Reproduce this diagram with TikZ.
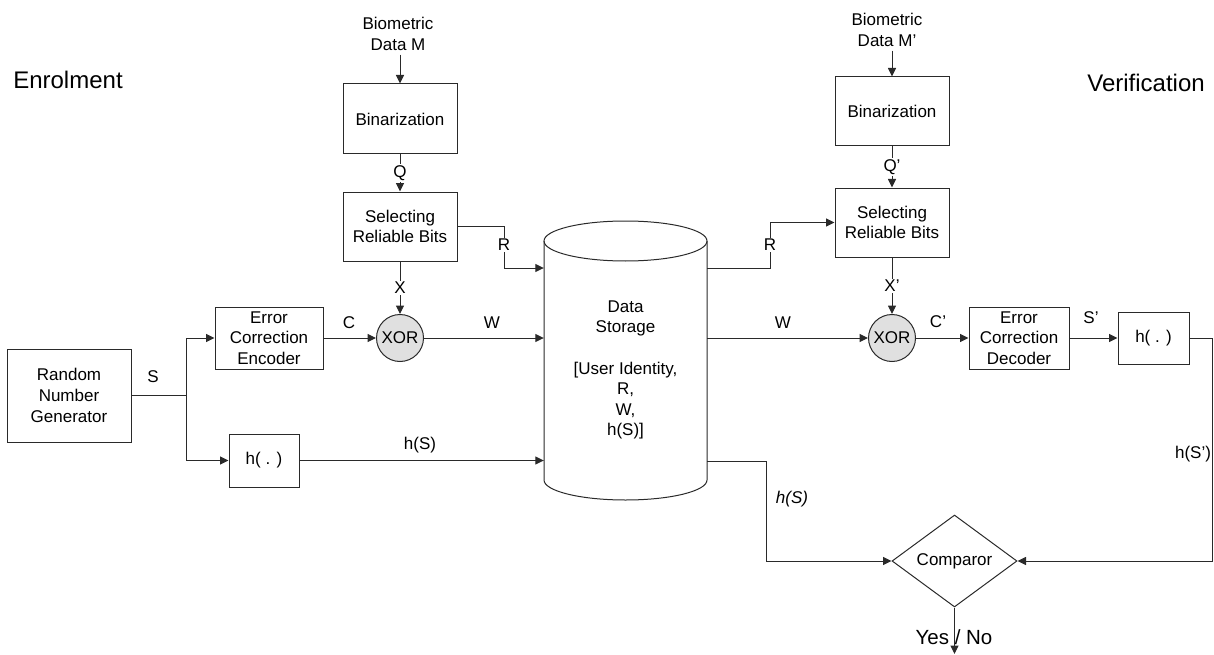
\documentclass[tikz,border=0pt]{standalone}
\usepackage{fontspec}
\setmainfont{Liberation Sans}
\usetikzlibrary{arrows.meta,shapes.geometric}
\newcommand\bodyfont{\fontsize{17pt}{20.6pt}\selectfont}
\newcommand\headfont{\fontsize{24pt}{28pt}\selectfont}
\newcommand\ynfont{\fontsize{20.5pt}{24pt}\selectfont}
\definecolor{ink}{HTML}{2A2A2A}
\definecolor{gatefill}{HTML}{E0E0E0}

\begin{document}
\begin{tikzpicture}[x=1pt,y=-1pt,
  every node/.style={font=\bodyfont, text=black},
  line/.style={draw=ink, line width=1pt},
  arr/.style={line, -{Triangle[length=8.5pt,width=8pt]}},
  block/.style={draw=ink, line width=1pt, align=center, inner sep=2pt},
  xorgate/.style={circle, draw=ink, fill=gatefill, line width=1pt, minimum size=47pt, inner sep=0pt},
  lbl/.style={fill=white, inner sep=1pt},
]
\useasboundingbox (0,0) rectangle (1214,655);

% headings
\node[font=\headfont] (enrol) at (68,80) {Enrolment};
\node[font=\headfont] (verif) at (1146,83) {Verification};

% enrolment chain
\node[align=center, inner sep=4pt] (bioL) at (398,34) {Biometric\\Data M};
\node[block, minimum width=114pt, minimum height=70pt] (binL) at (400,119) {Binarization};
\node[block, minimum width=114pt, minimum height=69pt] (selL) at (400,226.5) {Selecting\\Reliable Bits};
\node[xorgate] (xorL) at (400,338) {XOR};
\node[block, minimum width=108pt, minimum height=62pt] (enc) at (269,338) {Error\\Correction\\Encoder};
\node[block, minimum width=124pt, minimum height=93pt] (rng) at (69,395.5) {Random\\Number\\Generator};
\node[block, minimum width=70pt, minimum height=53pt] (hL) at (264,460.5) {h( . )};

% data storage cylinder
\node[minimum width=163pt, minimum height=279pt, inner sep=0pt] (store) at (625.5,360.5) {};
\draw[line] (544,241) -- (544,480) arc[start angle=180, end angle=360, x radius=81.5pt, y radius=20pt] -- (707,241);
\draw[line] (625.5,241) ellipse [x radius=81.5pt, y radius=20pt];
\node[align=center] (storetext) at (625.5,370) {Data\\Storage\\[20.6pt]{[}User Identity,\\R,\\W,\\h(S)]};

% verification chain
\node[align=center, inner sep=4pt] (bioR) at (887,30) {Biometric\\Data M'};
\node[block, minimum width=114pt, minimum height=69pt] (binR) at (892,111.5) {Binarization};
\node[block, minimum width=114pt, minimum height=69pt] (selR) at (892,222.5) {Selecting\\Reliable Bits};
\node[xorgate] (xorR) at (892,338) {XOR};
\node[block, minimum width=100pt, minimum height=62pt] (dec) at (1019,338) {Error\\Correction\\Decoder};
\node[block, minimum width=71pt, minimum height=52pt] (hR) at (1153.5,338) {h( . )};
\node[diamond, aspect=1.36, draw=ink, line width=1pt, minimum width=125pt, minimum height=92pt, inner sep=0pt] (comp) at (954.5,561) {Comparor};

% routing points
\coordinate (j) at (186,395.5);
\coordinate (rL) at (504,268);
\coordinate (rR) at (770,268);
\coordinate (hs) at (766,461);
\coordinate (cR) at (1212.5,561);
\coordinate (yn) at (954.5,654);

% enrolment connectors
\draw[arr] (bioL.south -| binL.north) -- (binL.north);
\draw[arr] (binL) -- node[lbl] (lQ) {Q} (selL);
\draw[arr] (selL) -- node[lbl] (lX) {X} (xorL);
\draw[line, line width=1.8pt] (rng.east) -- (j);
\draw[arr] (j) |- (enc.west);
\draw[arr] (j) |- (hL.west);
\node (lS) at (153,377) {S};
\draw[arr] (enc) -- (xorL);
\node (lC) at (349,323) {C};
\draw[arr] (xorL) -- (xorL -| store.west);
\node (lW) at (492,323) {W};
\draw[arr] (hL) -- (hL -| store.west);
\node (lhS) at (420,445) {h(S)};
\draw[arr] (selL.east) -| (rL) -- (rL -| store.west);
\node[lbl] (lR) at (504,245) {R};

% verification connectors
\draw[arr] (rR -| store.east) -- (rR) |- (selR.west);
\node[lbl] (lR2) at (770,245) {R};
\draw[arr] (xorR -| store.east) -- (xorR);
\node (lW2) at (783,323) {W};
\draw[arr] (bioR.south -| binR.north) -- (binR.north);
\draw[arr] (binR) -- node[lbl] (lQ2) {Q'} (selR);
\draw[arr] (selR) -- node[lbl] (lX2) {X'} (xorR);
\draw[arr] (xorR) -- (dec);
\node (lC2) at (938,322) {C'};
\draw[arr] (dec) -- (hR);
\node (lS2) at (1091,318) {S'};
\draw[arr] (hR.east) -| (cR) -- (comp.east);
\node (lhS2) at (1193,454) {h(S')};
\draw[arr] (hs -| store.east) -- (hs) |- (comp.west);
\node[font=\bodyfont\itshape] (lhS3) at (792,499) {h(S)};
\draw[arr] (comp.south) -- (yn);
\node[font=\ynfont] (lyn) at (954,637) {Yes / No};
\end{tikzpicture}
\end{document}
